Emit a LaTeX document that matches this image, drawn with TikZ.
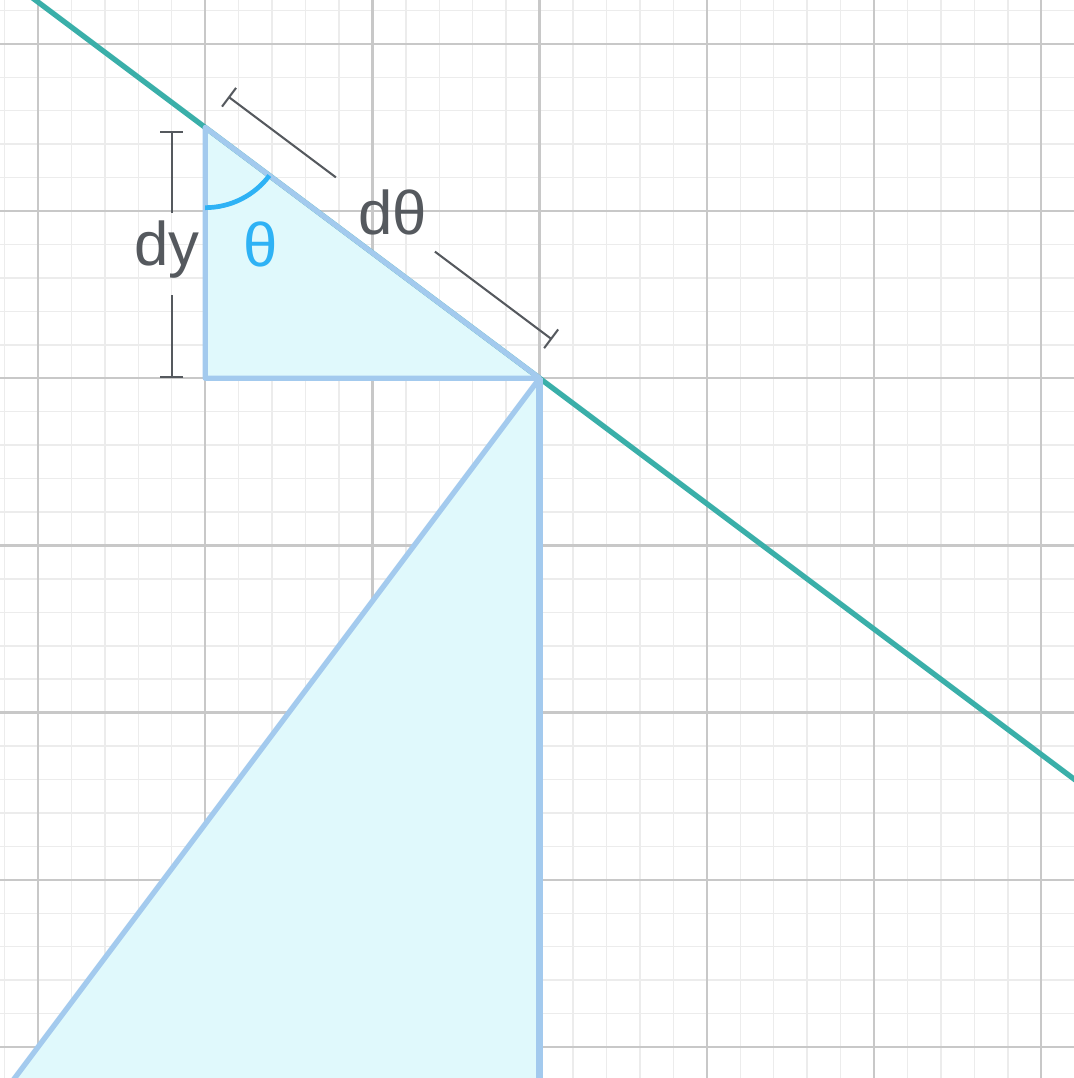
\documentclass[tikz,border=0pt]{standalone}
\usepackage{fontspec}
\setmainfont{Liberation Sans}
\usetikzlibrary{calc,arrows.meta}
\definecolor{gridmajor}{HTML}{C8C8C8}
\definecolor{gridminor}{HTML}{ECECEC}
\definecolor{tealline}{HTML}{3AAFA9}
\definecolor{edgeblue}{HTML}{A3CAEE}
\definecolor{fillcyan}{HTML}{E0F9FC}
\definecolor{dimgrey}{HTML}{55595E}
\definecolor{thetablue}{HTML}{2EB2F5}
\tikzset{
  edge/.style={edgeblue, line width=0.9pt, line join=round},
  dimline/.style={dimgrey, line width=0.35pt},
  dimlabel/.style={dimgrey, font=\fontsize{10.5}{12}\selectfont, inner sep=1pt},
}
\begin{document}
\begin{tikzpicture}
\useasboundingbox (-0.227,-0.185) rectangle (6.196,6.262);
\clip (-0.227,-0.185) rectangle (6.196,6.262);
\fill[white] (-0.227,-0.185) rectangle (6.196,6.262);
% grid
\draw[gridminor, line width=0.25pt, step=0.2] (-1,-1) grid (7,7);
\draw[gridmajor, line width=0.4pt, step=1] (-1,-1) grid (7,7);
% points
\coordinate (A) at (1,5.5);
\coordinate (C) at (1,4);
\coordinate (B) at (3,4);
\coordinate (D) at (-0.375,-0.5);
\coordinate (E) at (3,-0.5);
\coordinate (T1) at (-0.5,6.625);
\coordinate (T2) at (6.5,1.375);
% fills
\fill[fillcyan] (D) -- (B) -- (E) -- cycle;
\fill[fillcyan] (A) -- (C) -- (B) -- cycle;
% teal line
\draw[tealline, line width=0.9pt] (T1) -- (T2);
% blue edges
\draw[edge] (D) -- (B);
\draw[edgeblue, line width=1.2pt] (B) -- (E);
\draw[edge] (A) -- (C) -- (B) -- cycle;
% angle arc
\draw[thetablue, line width=0.8pt] (A) ++(-90:0.48) arc[start angle=-90, end angle=-36.87, radius=0.48];
\node[text=thetablue, font=\fontsize{10.5}{12}\selectfont, inner sep=0pt] (th) at (1.33,4.80) {θ};
% dy dimension
\coordinate (dyT) at (0.80,5.48);
\coordinate (dyTg) at (0.80,4.99);
\coordinate (dyBg) at (0.80,4.50);
\coordinate (dyB) at (0.80,4.0);
\draw[dimline, {Bar[width=0.14cm]}-] (dyT) -- (dyTg);
\draw[dimline, {Bar[width=0.14cm]}-] (dyB) -- (dyBg);
\node[dimlabel] (dy) at (0.77,4.77) {dy};
% dtheta dimension
\coordinate (P1) at ($(A)+(0.138,0.184)$);
\coordinate (G1) at ($(P1)+(0.644,-0.483)$);
\coordinate (G2) at ($(P1)+(1.236,-0.927)$);
\coordinate (P2) at ($(P1)+(1.936,-1.452)$);
\draw[dimline, {Bar[width=0.14cm]}-] (P1) -- (G1);
\draw[dimline, {Bar[width=0.14cm]}-] (P2) -- (G2);
\node[dimlabel] (dth) at (2.12,4.99) {dθ};
\end{tikzpicture}
\end{document}
